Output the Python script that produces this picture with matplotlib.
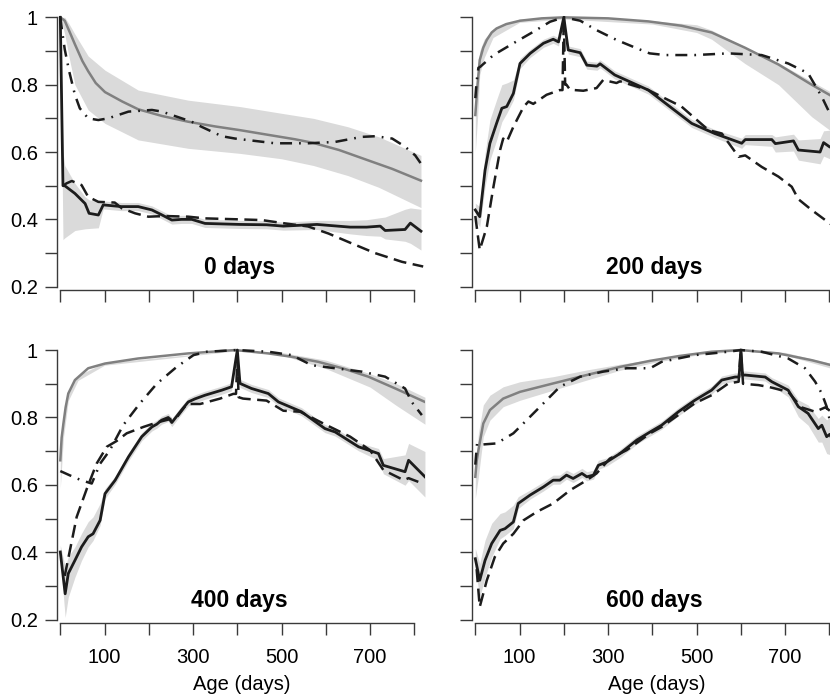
import numpy as np
import matplotlib.pyplot as plt

plt.rcParams['font.family'] = ['Liberation Sans', 'DejaVu Sans']

# ---------------- panel "0 days" ----------------
d0_grey_x = [0, 10, 20, 33, 50, 63, 80, 101, 140, 176, 230, 289, 350, 406, 470, 530, 572, 630, 692, 750, 815]
d0_grey = [1.0, 0.99, 0.96, 0.92, 0.87, 0.84, 0.805, 0.778, 0.75, 0.727, 0.707, 0.69, 0.676, 0.665, 0.651, 0.638, 0.627, 0.606, 0.577, 0.55, 0.515]
d0_grey_band_x = [0, 10, 20, 33, 63, 101, 176, 289, 406, 500, 572, 650, 720, 815]
d0_grey_hi = [1.0, 1.0, 0.98, 0.95, 0.885, 0.843, 0.784, 0.754, 0.735, 0.715, 0.70, 0.675, 0.645, 0.59]
d0_grey_lo = [1.0, 0.95, 0.88, 0.80, 0.725, 0.685, 0.636, 0.611, 0.596, 0.58, 0.56, 0.53, 0.495, 0.435]
d0_solid_x = [0, 6, 10, 33, 56, 65, 86, 97, 138, 176, 207, 230, 252, 274, 297, 327, 406, 466, 504, 580, 655, 692, 723, 734, 779, 791, 815]
d0_solid = [1.0, 0.50, 0.50, 0.477, 0.447, 0.418, 0.413, 0.443, 0.438, 0.438, 0.428, 0.413, 0.398, 0.40, 0.40, 0.388, 0.385, 0.384, 0.38, 0.385, 0.377, 0.377, 0.38, 0.367, 0.37, 0.389, 0.365]
d0_solid_up = [0, 0.10, 0.06, 0.03, 0.02, 0.04, 0.04, 0.012, 0.012, 0.012, 0.012, 0.012, 0.012, 0.012, 0.012, 0.012, 0.012, 0.012, 0.012, 0.012, 0.02, 0.022, 0.025, 0.04, 0.06, 0.045, 0.065]
d0_solid_dn = [0, 0.16, 0.155, 0.11, 0.075, 0.045, 0.038, 0.012, 0.012, 0.012, 0.012, 0.012, 0.012, 0.012, 0.012, 0.012, 0.012, 0.012, 0.012, 0.015, 0.02, 0.025, 0.03, 0.025, 0.035, 0.06, 0.056]
d0_dash_x = [6, 14, 26, 48, 63, 86, 123, 139, 169, 199, 237, 289, 327, 406, 455, 508, 560, 606, 658, 711, 772, 820]
d0_dash = [0.50, 0.507, 0.514, 0.502, 0.467, 0.452, 0.45, 0.433, 0.418, 0.408, 0.41, 0.408, 0.403, 0.40, 0.398, 0.388, 0.379, 0.358, 0.329, 0.30, 0.274, 0.26]
d0_dot_x = [0, 4, 10, 20, 33, 44, 63, 86, 108, 154, 207, 230, 252, 297, 319, 365, 395, 485, 560, 621, 681, 712, 750, 779, 802, 820]
d0_dot = [1.0, 0.96, 0.905, 0.84, 0.77, 0.73, 0.70, 0.695, 0.70, 0.72, 0.725, 0.72, 0.71, 0.69, 0.675, 0.647, 0.64, 0.626, 0.626, 0.63, 0.645, 0.647, 0.64, 0.616, 0.59, 0.556]

# ---------------- panel "200 days" ----------------
d200_grey_x = [0, 5, 10, 18, 26, 37, 48, 70, 101, 150, 200, 300, 391, 466, 534, 609, 685, 760, 820]
d200_grey = [0.71, 0.80, 0.873, 0.91, 0.933, 0.955, 0.967, 0.98, 0.99, 0.997, 1.0, 0.997, 0.988, 0.975, 0.955, 0.91, 0.86, 0.80, 0.755]
d200_grey_band_x = [0, 5, 10, 20, 40, 100, 200, 400, 500, 534, 609, 685, 760, 801, 820]
d200_grey_hi = [0.73, 0.84, 0.90, 0.935, 0.965, 0.995, 1.0, 0.99, 0.978, 0.962, 0.912, 0.865, 0.81, 0.78, 0.765]
d200_grey_lo = [0.60, 0.70, 0.83, 0.88, 0.94, 0.985, 0.995, 0.98, 0.955, 0.935, 0.863, 0.80, 0.705, 0.665, 0.64]
d200_solid_x = [0, 10, 22, 33, 48, 60, 71, 86, 101, 124, 154, 176, 188, 200, 210, 237, 252, 275, 282, 315, 391, 489, 541, 602, 610, 670, 678, 719, 730, 779, 787, 801, 820]
d200_solid = [0.428, 0.408, 0.546, 0.626, 0.685, 0.73, 0.735, 0.774, 0.863, 0.893, 0.923, 0.935, 0.927, 1.0, 0.903, 0.895, 0.858, 0.855, 0.862, 0.829, 0.784, 0.685, 0.655, 0.626, 0.637, 0.637, 0.625, 0.633, 0.606, 0.60, 0.628, 0.615, 0.61]
d200_solid_up = [0.02, 0.03, 0.05, 0.07, 0.07, 0.07, 0.07, 0.04, 0.015, 0.012, 0.012, 0.012, 0.012, 0, 0.012, 0.012, 0.012, 0.012, 0.012, 0.012, 0.012, 0.012, 0.012, 0.015, 0.015, 0.015, 0.02, 0.02, 0.03, 0.04, 0.035, 0.05, 0.05]
d200_solid_dn = [0.03, 0.03, 0.05, 0.05, 0.05, 0.04, 0.02, 0.02, 0.015, 0.012, 0.012, 0.012, 0.012, 0, 0.012, 0.012, 0.012, 0.012, 0.012, 0.012, 0.012, 0.012, 0.012, 0.015, 0.015, 0.02, 0.025, 0.03, 0.03, 0.035, 0.04, 0.035, 0.04]
d200_dash_x = [0, 10, 26, 41, 56, 63, 71, 86, 109, 120, 131, 161, 191, 197, 200, 203, 206, 214, 244, 274, 289, 319, 327, 391, 466, 527, 557, 595, 610, 647, 685, 715, 730, 760, 801, 820]
d200_dash = [0.41, 0.309, 0.378, 0.497, 0.606, 0.64, 0.63, 0.675, 0.734, 0.75, 0.743, 0.77, 0.784, 0.784, 1.0, 0.80, 0.80, 0.785, 0.782, 0.79, 0.814, 0.805, 0.81, 0.784, 0.735, 0.665, 0.655, 0.586, 0.59, 0.556, 0.527, 0.497, 0.46, 0.428, 0.388, 0.37]
d200_dot_x = [0, 3, 7, 11, 41, 86, 131, 169, 200, 237, 274, 319, 365, 394, 429, 496, 572, 647, 707, 752, 783, 801, 820]
d200_dot = [0.76, 0.81, 0.85, 0.853, 0.888, 0.923, 0.957, 0.987, 1.0, 0.99, 0.962, 0.933, 0.908, 0.893, 0.888, 0.888, 0.893, 0.888, 0.863, 0.834, 0.764, 0.715, 0.68]

# ---------------- panel "400 days" ----------------
d400_grey_x = [0, 3, 7, 12, 18, 33, 63, 101, 176, 289, 395, 470, 523, 583, 640, 696, 757, 824]
d400_grey = [0.673, 0.74, 0.782, 0.83, 0.871, 0.911, 0.946, 0.96, 0.975, 0.99, 1.0, 0.99, 0.98, 0.965, 0.945, 0.921, 0.886, 0.846]
d400_grey_band_x = [0, 7, 18, 40, 100, 400, 500, 600, 700, 760, 824]
d400_grey_hi = [0.70, 0.80, 0.88, 0.925, 0.962, 1.0, 0.993, 0.97, 0.93, 0.90, 0.86]
d400_grey_lo = [0.59, 0.74, 0.85, 0.91, 0.955, 0.998, 0.985, 0.945, 0.89, 0.835, 0.78]
d400_solid_x = [0, 11, 18, 33, 48, 63, 74, 90, 101, 124, 154, 184, 207, 218, 229, 244, 252, 274, 289, 304, 327, 365, 387, 400, 406, 432, 470, 493, 545, 598, 621, 674, 719, 730, 779, 787, 824]
d400_solid = [0.401, 0.277, 0.337, 0.376, 0.416, 0.446, 0.455, 0.495, 0.574, 0.614, 0.683, 0.743, 0.772, 0.78, 0.792, 0.80, 0.785, 0.822, 0.846, 0.855, 0.866, 0.881, 0.891, 1.0, 0.901, 0.886, 0.871, 0.846, 0.817, 0.767, 0.757, 0.713, 0.693, 0.658, 0.639, 0.673, 0.624]
d400_solid_up = [0.02, 0.08, 0.05, 0.04, 0.04, 0.045, 0.05, 0.05, 0.015, 0.012, 0.012, 0.012, 0.012, 0.012, 0.012, 0.012, 0.012, 0.012, 0.012, 0.012, 0.012, 0.012, 0.012, 0, 0.012, 0.012, 0.012, 0.012, 0.012, 0.012, 0.012, 0.012, 0.015, 0.02, 0.05, 0.05, 0.075]
d400_solid_dn = [0.02, 0.07, 0.07, 0.05, 0.04, 0.03, 0.02, 0.015, 0.015, 0.012, 0.012, 0.012, 0.012, 0.012, 0.012, 0.012, 0.012, 0.012, 0.012, 0.012, 0.012, 0.012, 0.012, 0, 0.012, 0.012, 0.012, 0.012, 0.012, 0.012, 0.012, 0.012, 0.02, 0.025, 0.04, 0.06, 0.06]
d400_dash_x = [10, 14, 37, 60, 82, 105, 127, 150, 188, 218, 263, 286, 316, 361, 391, 397, 400, 403, 413, 466, 504, 542, 602, 655, 700, 730, 776, 787, 809]
d400_dash = [0.33, 0.356, 0.505, 0.589, 0.663, 0.713, 0.73, 0.753, 0.772, 0.785, 0.80, 0.84, 0.84, 0.856, 0.87, 0.87, 0.97, 0.86, 0.856, 0.85, 0.82, 0.817, 0.777, 0.743, 0.703, 0.644, 0.614, 0.62, 0.609]
d400_dot_x = [0, 22, 45, 71, 90, 112, 142, 180, 218, 263, 301, 331, 400, 470, 523, 568, 621, 681, 734, 779, 794, 817]
d400_dot = [0.641, 0.628, 0.615, 0.604, 0.663, 0.703, 0.777, 0.842, 0.90, 0.95, 0.985, 0.995, 1.0, 0.995, 0.985, 0.955, 0.946, 0.936, 0.921, 0.886, 0.846, 0.807]

# ---------------- panel "600 days" ----------------
d600_grey_x = [0, 3, 7, 18, 33, 63, 101, 176, 252, 327, 395, 459, 534, 600, 685, 760, 820]
d600_grey = [0.624, 0.67, 0.703, 0.782, 0.822, 0.856, 0.876, 0.901, 0.926, 0.95, 0.968, 0.982, 0.995, 1.0, 0.99, 0.97, 0.95]
d600_grey_band_x = [0, 7, 18, 33, 63, 101, 176, 252, 327, 400, 500, 600, 700, 820]
d600_grey_hi = [0.64, 0.753, 0.837, 0.866, 0.891, 0.906, 0.921, 0.941, 0.958, 0.972, 0.99, 1.0, 0.993, 0.955]
d600_grey_lo = [0.56, 0.624, 0.743, 0.792, 0.832, 0.851, 0.881, 0.911, 0.94, 0.962, 0.985, 0.998, 0.985, 0.94]
d600_solid_x = [0, 10, 22, 37, 56, 67, 86, 97, 124, 154, 176, 191, 206, 221, 241, 252, 267, 278, 297, 327, 365, 395, 421, 459, 496, 534, 557, 587, 596, 600, 604, 609, 655, 670, 707, 730, 752, 775, 783, 794, 801, 820]
d600_solid = [0.381, 0.317, 0.376, 0.426, 0.465, 0.47, 0.49, 0.545, 0.57, 0.594, 0.614, 0.614, 0.629, 0.619, 0.634, 0.624, 0.629, 0.658, 0.668, 0.693, 0.733, 0.757, 0.777, 0.817, 0.851, 0.881, 0.911, 0.92, 0.92, 1.0, 0.925, 0.926, 0.92, 0.906, 0.881, 0.832, 0.812, 0.767, 0.777, 0.743, 0.75, 0.70]
d600_solid_up = [0.03, 0.05, 0.06, 0.06, 0.05, 0.05, 0.05, 0.02, 0.015, 0.015, 0.015, 0.015, 0.015, 0.015, 0.015, 0.015, 0.015, 0.015, 0.012, 0.012, 0.012, 0.012, 0.012, 0.012, 0.012, 0.012, 0.012, 0.012, 0.012, 0, 0.012, 0.012, 0.012, 0.012, 0.015, 0.02, 0.025, 0.03, 0.03, 0.05, 0.05, 0.06]
d600_solid_dn = [0.03, 0.05, 0.05, 0.04, 0.025, 0.02, 0.02, 0.015, 0.012, 0.012, 0.012, 0.012, 0.012, 0.012, 0.012, 0.012, 0.012, 0.012, 0.012, 0.012, 0.012, 0.012, 0.012, 0.012, 0.012, 0.012, 0.012, 0.012, 0.012, 0, 0.012, 0.012, 0.012, 0.012, 0.02, 0.03, 0.035, 0.04, 0.05, 0.05, 0.06, 0.06]
d600_dash_x = [3, 10, 26, 44, 63, 86, 109, 139, 176, 214, 252, 274, 304, 342, 395, 421, 496, 534, 572, 595, 600, 605, 640, 665, 707, 737, 768, 791, 801]
d600_dash = [0.35, 0.238, 0.317, 0.386, 0.426, 0.455, 0.495, 0.52, 0.545, 0.584, 0.614, 0.634, 0.678, 0.703, 0.753, 0.772, 0.842, 0.866, 0.901, 0.906, 1.0, 0.90, 0.896, 0.89, 0.876, 0.83, 0.817, 0.83, 0.82]
d600_dot_x = [0, 4, 18, 48, 86, 116, 154, 191, 237, 289, 342, 395, 421, 496, 572, 600, 647, 707, 745, 768, 783, 794, 801, 820]
d600_dot = [0.66, 0.723, 0.72, 0.723, 0.753, 0.792, 0.842, 0.891, 0.921, 0.936, 0.946, 0.946, 0.965, 0.985, 0.995, 1.0, 0.995, 0.975, 0.946, 0.906, 0.871, 0.832, 0.792, 0.75]

titles = ['0 days', '200 days', '400 days', '600 days']
x_ticks = [0, 100, 200, 300, 400, 500, 600, 700, 800]
x_ticklabels = ['', '100', '', '300', '', '500', '', '700', '']
y_ticks = [0.2, 0.3, 0.4, 0.5, 0.6, 0.7, 0.8, 0.9, 1.0]
y_ticklabels = ['0.2', '', '0.4', '', '0.6', '', '0.8', '', '1']

panels = [
    (d0_grey_x, d0_grey, d0_grey_band_x, d0_grey_lo, d0_grey_hi,
     d0_solid_x, d0_solid, d0_solid_dn, d0_solid_up,
     d0_dash_x, d0_dash, d0_dot_x, d0_dot),
    (d200_grey_x, d200_grey, d200_grey_band_x, d200_grey_lo, d200_grey_hi,
     d200_solid_x, d200_solid, d200_solid_dn, d200_solid_up,
     d200_dash_x, d200_dash, d200_dot_x, d200_dot),
    (d400_grey_x, d400_grey, d400_grey_band_x, d400_grey_lo, d400_grey_hi,
     d400_solid_x, d400_solid, d400_solid_dn, d400_solid_up,
     d400_dash_x, d400_dash, d400_dot_x, d400_dot),
    (d600_grey_x, d600_grey, d600_grey_band_x, d600_grey_lo, d600_grey_hi,
     d600_solid_x, d600_solid, d600_solid_dn, d600_solid_up,
     d600_dash_x, d600_dash, d600_dot_x, d600_dot),
]

W, H = 830.0, 698.0
fig = plt.figure(figsize=(W / 100, H / 100), dpi=100)

# axes rectangles in pixels: left, top, right, bottom
XMIN, XMAX = -6.8, 825
YMIN, YMAX = 0.19, 1.012
boxes = [
    (57.3, 13.3, 425.4, 290.1),
    (472.3, 13.3, 840.4, 290.1),
    (57.3, 346.0, 425.4, 623.1),
    (472.3, 346.0, 840.4, 623.1),
]

band_col = '#dadada'
grey_col = '#808080'
ink = '#1c1c1c'

for i, (box, data, title) in enumerate(zip(boxes, panels, titles)):
    (gx, gy, gbx, glo, ghi, sx, sy, sdn, sup, dx, dy, ox, oy) = data
    l, t, r, b = box
    ax = fig.add_axes([l / W, 1 - b / H, (r - l) / W, (b - t) / H])
    ax.set_xlim(XMIN, XMAX)
    ax.set_ylim(YMIN, YMAX)

    sy_arr = np.array(sy)
    ax.fill_between(gbx, glo, ghi, color=band_col, lw=0, zorder=1)
    ax.fill_between(sx, sy_arr - np.array(sdn), sy_arr + np.array(sup),
                    color=band_col, lw=0, zorder=1)
    ax.plot(gx, gy, color=grey_col, lw=1.8, zorder=2)
    ax.plot(dx, dy, color=ink, lw=1.8, ls=(0, (5.2, 2.6)), zorder=3)
    ax.plot(ox, oy, color=ink, lw=1.8, ls=(0, (4.8, 2.8, 0.7, 2.8)), zorder=3)
    ax.plot(sx, sy, color=ink, lw=2.0, zorder=4)

    ax.text(404, 0.237, title, ha='center', va='baseline',
            fontsize=16.5, fontweight='bold')

    for side in ['top', 'right']:
        ax.spines[side].set_visible(False)
    ax.spines['left'].set_bounds(0.2, 1.0)
    ax.spines['bottom'].set_bounds(0, 800)
    for side in ['left', 'bottom']:
        ax.spines[side].set_linewidth(1.0)
        ax.spines[side].set_color('#3a3a3a')

    ax.set_xticks(x_ticks)
    ax.set_yticks(y_ticks)
    ax.tick_params(direction='out', length=8.5, width=1.0, color='#3a3a3a',
                   labelsize=14.5)
    ax.tick_params(axis='y', pad=5.5)
    ax.tick_params(axis='x', pad=9.5)
    if i >= 2:
        ax.set_xticklabels(x_ticklabels)
        ax.set_xlabel('Age (days)', fontsize=14.5, labelpad=6)
    else:
        ax.set_xticklabels([])
    if i % 2 == 0:
        ax.set_yticklabels(y_ticklabels)
    else:
        ax.set_yticklabels([])

fig.savefig('out.png', dpi=100)
